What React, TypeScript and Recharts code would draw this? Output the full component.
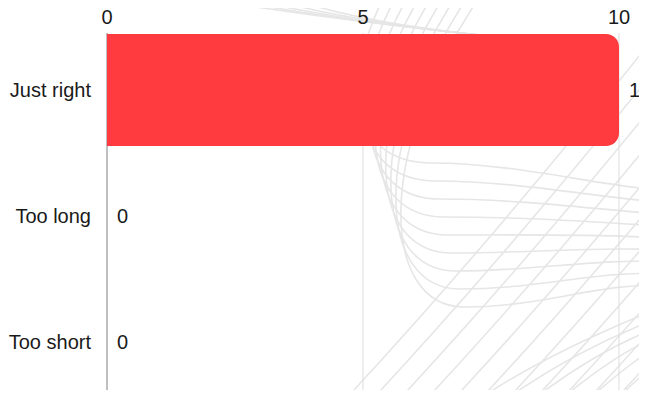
import React from 'react';
import { BarChart, Bar, XAxis, YAxis, CartesianGrid, LabelList } from 'recharts';

// answers and how many people picked each
const categories = ['Just right', 'Too long', 'Too short'];
const counts = [10, 0, 0];
const xTicks = [0, 5, 10];

const data = categories.map((name, i) => ({ name, count: counts[i] }));

const FONT = '"Liberation Sans", Arial, sans-serif';

// decorative swirl behind the chart (not data)
function Backdrop() {
  const paths: string[] = [];
  // L-shaped sweeps, leaning in from the top
  for (let i = 0; i < 9; i++) {
    const xt = 385 + 12 * i;
    const xv = 362 + 4 * i;
    const yh = 163 + 18 * i;
    const ye = 190 + 12 * i;
    paths.push(
      `M ${xt} -5 C ${xv - 22} ${yh * 0.5} ${xv - 12} ${yh} ${xv + 70} ${yh} S 600 ${ye - 4} 660 ${ye}`
    );
  }
  // diagonals from lower left
  for (let j = 0; j < 11; j++) {
    const xb = 340 + 27 * j;
    paths.push(`M ${xb} 405 Q ${xb + 140} 255 ${xb + 300} 55`);
  }
  // flatter sweeps in lower right
  for (let k = 0; k < 7; k++) {
    const xb = 470 + 28 * k;
    paths.push(`M ${xb} 405 Q ${xb + 80} ${350 - 4 * k} 680 ${300 + 10 * k}`);
  }
  // top arcs
  for (let m = 0; m < 5; m++) {
    paths.push(`M ${185 + 25 * m} -4 Q ${320 + 10 * m} ${18 + 2 * m} ${470 + 20 * m} ${34 + m * 2}`);
  }
  return (
    <svg width={647} height={398} style={{ position: 'absolute', left: 0, top: 0 }}>
      {paths.map((d, i) => (
        <path key={i} d={d} fill="none" stroke="#e6e6e6" strokeWidth={1.6} />
      ))}
    </svg>
  );
}

function ValueLabel(props: any) {
  const { x, y, width, height, value } = props;
  return (
    <text
      x={Number(x) + Number(width || 0) + 10}
      y={Number(y) + Number(height) / 2}
      dy="0.355em"
      fill="#1a1a1a"
      fontSize={20}
    >
      {value}
    </text>
  );
}

export default function App() {
  return (
    <div style={{ position: 'relative', width: 647, height: 398, margin: -8, overflow: 'hidden', background: '#fff' }}>
      <Backdrop />
      <div style={{ position: 'absolute', left: 0, top: 0 }}>
        <BarChart
          width={647}
          height={410}
          data={data}
          layout="vertical"
          margin={{ top: 0, right: 28, bottom: 5, left: 0 }}
          style={{ fontFamily: FONT, overflow: 'visible' }}
        >
          <CartesianGrid
            horizontal={false}
            vertical={(props: any) => (
              <line
                key={props.key}
                x1={props.x1}
                x2={props.x2}
                y1={props.y1 + 6}
                y2={props.y2}
                stroke={props.index === 0 ? '#aaaaaa' : '#dddddd'}
                strokeWidth={props.index === 0 ? 1.5 : 1}
              />
            )}
          />
          <XAxis
            type="number"
            orientation="top"
            domain={[0, 10]}
            ticks={xTicks}
            height={27}
            axisLine={false}
            tickLine={false}
            tickSize={0}
            tickMargin={3}
            tick={{ fill: '#1a1a1a', fontSize: 20 }}
          />
          <YAxis
            type="category"
            dataKey="name"
            width={107}
            axisLine={false}
            tickLine={false}
            tickSize={0}
            tickMargin={16}
            tick={{ fill: '#1a1a1a', fontSize: 20 }}
          />
          <Bar
            dataKey="count"
            fill="#ff3b3f"
            barSize={112}
            minPointSize={0.01}
            radius={[0, 13, 13, 0]}
            isAnimationActive={false}
          >
            <LabelList dataKey="count" content={ValueLabel} />
          </Bar>
        </BarChart>
      </div>
    </div>
  );
}
